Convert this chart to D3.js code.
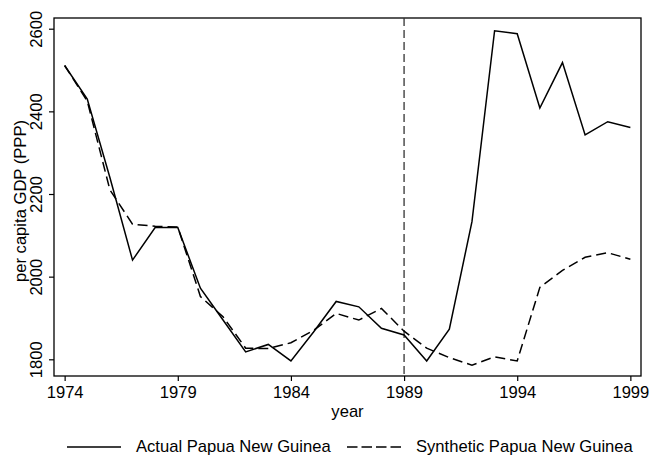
<!DOCTYPE html>
<html>
<head>
<meta charset="utf-8">
<script src="https://cdn.jsdelivr.net/npm/d3@7"></script>
<style>
  html, body { margin: 0; padding: 0; background: #fff; }
  svg { display: block; font-family: "Liberation Sans", Arial, Helvetica, sans-serif; }
</style>
</head>
<body>
<svg id="chart" width="651" height="457"></svg>
<script>
const years = [1974,1975,1976,1977,1978,1979,1980,1981,1982,1983,1984,1985,1986,1987,1988,1989,1990,1991,1992,1993,1994,1995,1996,1997,1998,1999];
const actual = [2511,2430,2240,2040,2119,2119,1972,1895,1818,1836,1796,1866,1940,1927,1875,1859,1796,1873,2133,2595,2588,2408,2518,2343,2375,2361];
const synthetic = [2511,2425,2210,2127,2122,2120,1952,1903,1827,1826,1840,1870,1911,1895,1923,1868,1827,1804,1786,1806,1796,1974,2015,2047,2058,2042];
const xTicks = [1974,1979,1984,1989,1994,1999];
const yTicks = [1800,2000,2200,2400,2600];
const treatmentYear = 1989;
const seriesNames = ["Actual Papua New Guinea", "Synthetic Papua New Guinea"];
const xTitle = "year";
const yTitle = "per capita GDP (PPP)";

const FS = 16.6;
const svg = d3.select("#chart");
const L = 54, R = 641, T = 18, B = 376;
const x = d3.scaleLinear().domain([1973.53, 1999.47]).range([L, R]);
const y = d3.scaleLinear().domain([1759.6, 2625.9]).range([B, T]);

// axes
const yAxis = svg.append("g").attr("transform", `translate(${L},0)`)
  .call(d3.axisLeft(y).tickValues(yTicks).tickSize(5).tickSizeOuter(0).tickFormat(d3.format("d")));
yAxis.select(".domain").remove();
yAxis.selectAll(".tick line").attr("stroke", "#000").attr("stroke-width", 1.2);
yAxis.selectAll(".tick text")
  .attr("x", null).attr("dy", null)
  .attr("transform", "translate(-12,0) rotate(-90)")
  .attr("text-anchor", "middle")
  .attr("font-size", FS).attr("fill", "#000")
  .attr("font-family", "'Liberation Sans', Arial, sans-serif");

const xAxis = svg.append("g").attr("transform", `translate(0,${B})`)
  .call(d3.axisBottom(x).tickValues(xTicks).tickSize(5).tickSizeOuter(0).tickFormat(d3.format("d")));
xAxis.select(".domain").remove();
xAxis.selectAll(".tick line").attr("stroke", "#000").attr("stroke-width", 1.2);
xAxis.selectAll(".tick text")
  .attr("y", 22).attr("dy", null)
  .attr("font-size", FS).attr("fill", "#000")
  .attr("font-family", "'Liberation Sans', Arial, sans-serif");

// frame
svg.append("rect").attr("x", L).attr("y", T).attr("width", R - L).attr("height", B - T)
  .attr("fill", "none").attr("stroke", "#000").attr("stroke-width", 1.3);

// treatment line
svg.append("line")
  .attr("x1", x(treatmentYear)).attr("x2", x(treatmentYear))
  .attr("y1", T).attr("y2", B)
  .attr("stroke", "#333").attr("stroke-width", 1.3)
  .attr("stroke-dasharray", "8,4");

const line = d3.line().x((d, i) => x(years[i])).y(d => y(d));
svg.append("path").datum(actual).attr("d", line)
  .attr("fill", "none").attr("stroke", "#000").attr("stroke-width", 1.5);
svg.append("path").datum(synthetic).attr("d", line)
  .attr("fill", "none").attr("stroke", "#000").attr("stroke-width", 1.5)
  .attr("stroke-dasharray", "10,5");

// titles
svg.append("text").attr("x", (L + R) / 2).attr("y", 417)
  .attr("text-anchor", "middle").attr("font-size", FS).text(xTitle);
svg.append("text").attr("transform", "translate(26,201) rotate(-90)")
  .attr("text-anchor", "middle").attr("font-size", FS).text(yTitle);

// legend
const lg = svg.append("g");
lg.append("line").attr("x1", 67).attr("x2", 121).attr("y1", 447).attr("y2", 447)
  .attr("stroke", "#000").attr("stroke-width", 1.5);
lg.append("text").attr("x", 136).attr("y", 452).attr("font-size", FS).text(seriesNames[0]);
lg.append("line").attr("x1", 347).attr("x2", 401).attr("y1", 447).attr("y2", 447)
  .attr("stroke", "#000").attr("stroke-width", 1.5).attr("stroke-dasharray", "10.5,4");
lg.append("text").attr("x", 416).attr("y", 452).attr("font-size", FS).text(seriesNames[1]);
</script>
</body>
</html>
